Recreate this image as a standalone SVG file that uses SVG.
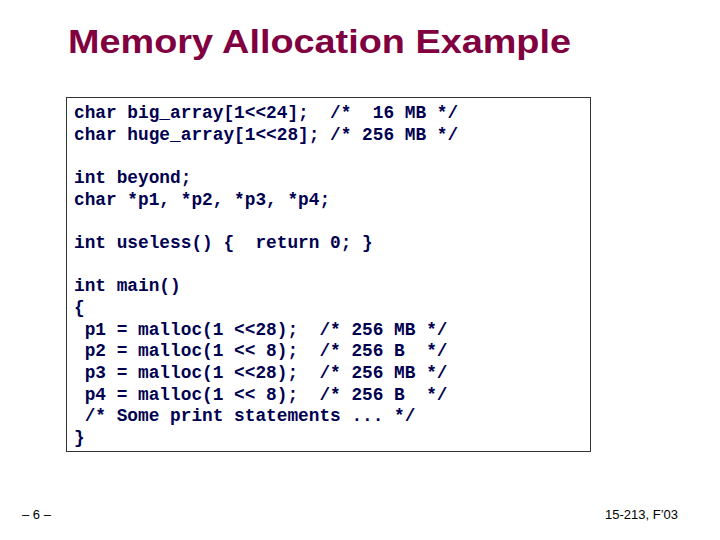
<svg xmlns="http://www.w3.org/2000/svg" width="720" height="540" viewBox="0 0 720 540">
<style>
.c{font-family:"Liberation Mono",monospace;font-weight:bold;font-size:17.8px;fill:#000050;white-space:pre}
.f{font-family:"Liberation Sans",Arial,sans-serif;font-size:13px;fill:#000}
</style>
<rect width="720" height="540" fill="#fff"/>
<text x="68" y="53" font-family="Liberation Sans,Arial,sans-serif" font-weight="bold" font-size="34" fill="#800040" textLength="503" lengthAdjust="spacingAndGlyphs">Memory Allocation Example</text>
<g id="code">
<rect x="66.5" y="97.5" width="524" height="354" fill="#fff" stroke="#333" stroke-width="1"/>
<text class="c" xml:space="preserve"><tspan x="74" y="118">char big_array[1&lt;&lt;24];  /*  16 MB */</tspan><tspan x="74" y="139.7">char huge_array[1&lt;&lt;28]; /* 256 MB */</tspan><tspan x="74" y="183">int beyond;</tspan><tspan x="74" y="204.7">char *p1, *p2, *p3, *p4;</tspan><tspan x="74" y="248">int useless() {  return 0; }</tspan><tspan x="74" y="291.4">int main()</tspan><tspan x="74" y="313">{</tspan><tspan x="74" y="334.7"> p1 = malloc(1 &lt;&lt;28);  /* 256 MB */</tspan><tspan x="74" y="356.4"> p2 = malloc(1 &lt;&lt; 8);  /* 256 B  */</tspan><tspan x="74" y="378"> p3 = malloc(1 &lt;&lt;28);  /* 256 MB */</tspan><tspan x="74" y="399.7"> p4 = malloc(1 &lt;&lt; 8);  /* 256 B  */</tspan><tspan x="74" y="421.4"> /* Some print statements ... */</tspan><tspan x="74" y="443">}</tspan></text>
</g>
<text class="f" x="22" y="519">– 6 –</text>
<text class="f" x="678" y="519" text-anchor="end">15-213, F’03</text>
</svg>
